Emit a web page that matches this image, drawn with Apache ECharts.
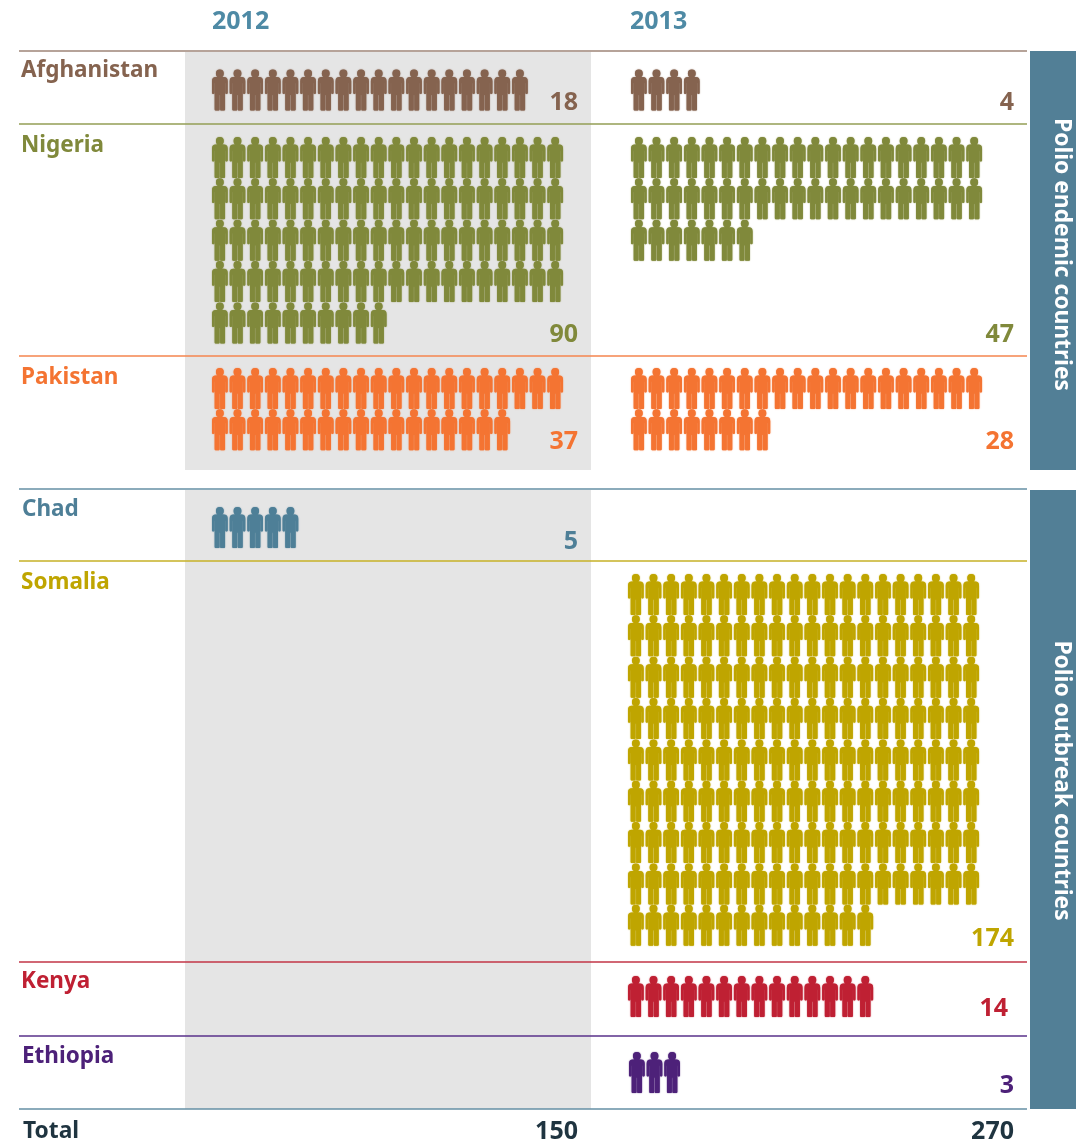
<!DOCTYPE html>
<html><head><meta charset="utf-8">
<style>html,body{margin:0;padding:0;background:#fff}#c{width:1076px;height:1146px}</style>
<script src="https://cdn.jsdelivr.net/npm/echarts@6/dist/echarts.min.js"></script>
</head><body><div id="c"></div>
<script>
// ---- data ----
const countries = ['Afghanistan','Nigeria','Pakistan','Chad','Somalia','Kenya','Ethiopia'];
const years = ['2012','2013'];
const cases2012 = [18,90,37,5,null,null,null];
const cases2013 = [4,47,28,null,174,14,3];
const total2012 = 150;
const total2013 = 270;
const groups = ['Polio endemic countries','Polio outbreak countries'];

// ---- layout & styles ----
const colours = ['#85634f','#80893b','#f47432','#4e7f97','#bfa500','#bf2033','#4d2179'];
const lineColours = ['#9e8577','#939e55','#f5854e','#648fa5','#c6b126','#c23446','#58308a'];
const font = '"Noto Sans", sans-serif';
const lineY = [51,124,356,489,561,962,1036,1109];
const iconTop = [69.5,137,368,507,574,976,1052];
const start2012 = 212;
const start2013 = [631,631,631,631,628,628,629];
const labelY = [103,335,442,542,939,1009,1086];
const nameY = [70.5,145.5,377.5,509.5,582.5,981.5,1056.5];
const nameX = [21,21,21,22,21,21,22];
const right2013 = [1014,1014,1014,1014,1014,1008,1014];
const perRow = 20, dx = 17.65, dy = 41.35, iconW = 15.7, iconH = 41;
const person = 'path://M4 3.9A4 3.9 0 1 1 12 3.9A4 3.9 0 1 1 4 3.9Z'
 + 'M4 7.6L12 7.6Q16 7.6 16 11.8L16 23.6Q16 24.6 14.7 24.6Q13.6 24.6 13.6 23.6L13.6 13.5L13.3 13.5L13.3 40Q13.3 41 12.3 41L9 41Q8.3 41 8.3 40L8.3 25.5L7.7 25.5L7.7 40Q7.7 41 7 41L3.7 41Q2.7 41 2.7 40L2.7 13.5L2.4 13.5L2.4 23.6Q2.4 24.6 1.3 24.6Q0 24.6 0 23.6L0 11.8Q0 7.6 4 7.6Z';

function icons(n, x0, y0){
  const pts = [];
  for (let i = 0; i < (n||0); i++){
    pts.push([x0 + iconW/2 + (i % perRow)*dx, y0 + iconH/2 + Math.floor(i/perRow)*dy]);
  }
  return pts;
}
const series = [];
countries.forEach((c,i)=>{
  [[cases2012,start2012],[cases2013,start2013[i]]].forEach(([arr,x0],k)=>{
    if (arr[i]) series.push({
      type:'scatter', name:c+' '+years[k], silent:true, symbol:person, symbolSize:[iconW,iconH],
      itemStyle:{color:colours[i],opacity:1,shadowBlur:1.2,shadowColor:colours[i]}, data:icons(arr[i],x0,iconTop[i]), animation:false
    });
  });
});
const g = [];
const text = (s,x,y,size,color,align='left',extra={}) => g.push({type:'text',x,y,silent:true,
  style:{text:s,font:`bold ${size}px ${font}`,fill:color,textAlign:align,textVerticalAlign:'middle'},...extra});
// panels
[[52,470],[490,1109]].forEach(([a,b])=>g.push({type:'rect',silent:true,shape:{x:185,y:a,width:406,height:b-a},style:{fill:'#e5e5e5'}}));
[[51,470],[490,1109]].forEach(([a,b])=>g.push({type:'rect',silent:true,shape:{x:1030,y:a,width:46,height:b-a},style:{fill:'#527f96'}}));
lineY.forEach((y,i)=>g.push({type:'line',silent:true,shape:{x1:19,y1:y,x2:1027,y2:y},
  style:{stroke:lineColours[Math.min(i,lineColours.length-1)],lineWidth:1.5}}));
g[g.length-1].style.stroke='#648fa5';
// text
text(years[0],212,22,25,'#4e8aa5'); text(years[1],630,22,25,'#4e8aa5');
countries.forEach((c,i)=>{
  text(c,nameX[i],nameY[i],22.5,colours[i]);
  if (cases2012[i]) text(String(cases2012[i]),578,labelY[i],25,colours[i],'right');
  if (cases2013[i]) text(String(cases2013[i]),right2013[i],labelY[i],25,colours[i],'right');
});
text('Total',23,1132,22.8,'#1f3440');
text(String(total2012),578,1132,25,'#1f3440','right');
text(String(total2013),1014,1132,25,'#1f3440','right');
text(groups[0],0,0,22.8,'#ffffff','center',{x:1061,y:254.5,rotation:-Math.PI/2});
text(groups[1],0,0,22.8,'#ffffff','center',{x:1061,y:780.5,rotation:-Math.PI/2});

const chart = echarts.init(document.getElementById('c'),null,{renderer:'canvas'});
chart.setOption({
  animation:false, backgroundColor:'#fff',
  grid:{left:0,right:0,top:0,bottom:0},
  xAxis:{type:'value',min:0,max:1076,show:false},
  yAxis:{type:'value',min:0,max:1146,inverse:true,show:false},
  graphic:{elements:g},
  series
});
</script></body></html>
